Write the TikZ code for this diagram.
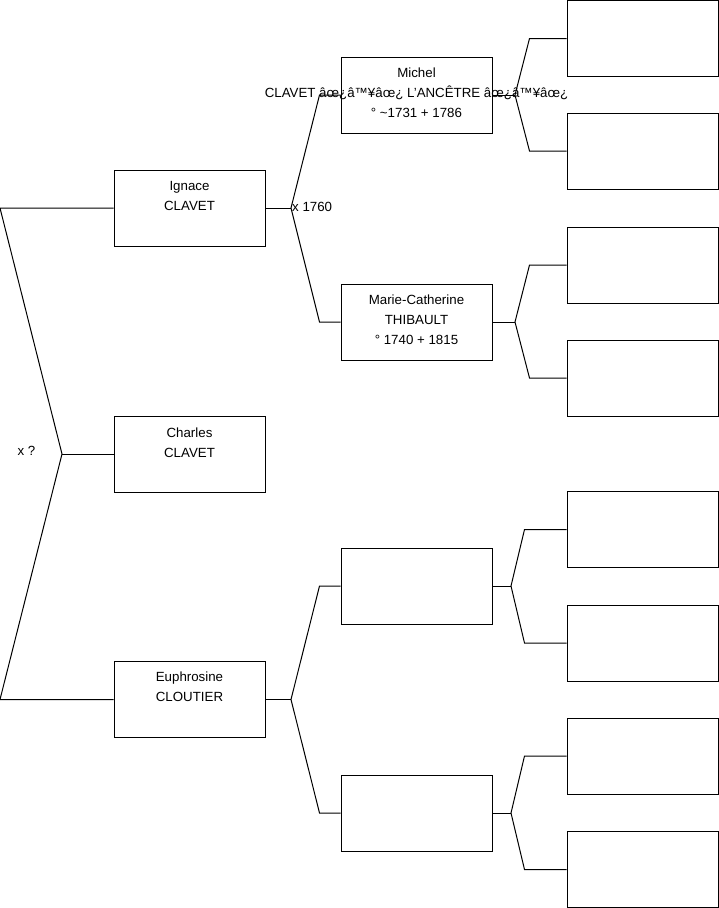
\documentclass[tikz,border=0pt]{standalone}
\usepackage{fontspec}
\setmainfont{Liberation Sans}
\begin{document}
\begin{tikzpicture}[x=1pt,y=-1pt,
  pbox/.style={draw=black,line width=1pt,minimum width=151pt,minimum height=76pt,inner sep=0pt},
  txt/.style={inner sep=0pt,align=center,font=\fontsize{13.3}{20}\selectfont},
  conn/.style={draw=black,line width=1pt}]
\useasboundingbox (0,0) rectangle (719,908);
% generation 1
\node[pbox] (ign) at (189.5,208) {};
\node[pbox] (cha) at (189.5,454) {};
\node[pbox] (eup) at (189.5,699.5) {};
% generation 2
\node[pbox] (mic) at (416.5,95) {};
\node[pbox] (mar) at (416.5,322) {};
\node[pbox] (ea) at (416.5,586) {};
\node[pbox] (eb) at (416.5,813) {};
% generation 3
\node[pbox] (g1) at (642.5,38.5) {};
\node[pbox] (g2) at (642.5,151) {};
\node[pbox] (g3) at (642.5,265) {};
\node[pbox] (g4) at (642.5,378) {};
\node[pbox] (g5) at (642.5,529.5) {};
\node[pbox] (g6) at (642.5,643) {};
\node[pbox] (g7) at (642.5,756) {};
\node[pbox] (g8) at (642.5,869.5) {};
% texts
\node[txt] (tign) at (189.5,196) {Ignace\\CLAVET};
\node[txt] (tcha) at (189.5,443) {Charles\\CLAVET};
\node[txt] (teup) at (189.5,687) {Euphrosine\\CLOUTIER};
\node[txt] (tmic) at (416.5,93) {Michel\\CLAVET âœ¿â™¥âœ¿ L'ANCÊTRE âœ¿â™¥âœ¿\\° \textasciitilde1731 + 1786};
\node[txt] (tmar) at (416.5,319.5) {Marie-Catherine\\THIBAULT\\° 1740 + 1815};
\node[txt,anchor=west] (tx1) at (292,207) {x 1760};
\node[txt] (tx2) at (26.5,451) {x ?};
% junction coordinates
\coordinate (l1) at (0,208);
\coordinate (l2) at (0,699.5);
\coordinate (jl) at (62,454);
\coordinate (ji) at (291,208);
\coordinate (je) at (291,699.5);
\coordinate (jm) at (515,95);
\coordinate (jr) at (515,322);
\coordinate (ja) at (511,586);
\coordinate (jb) at (511,813);
% connectors
\draw[conn] (ign.west) -- (l1) -- (jl) -- (l2) -- (eup.west);
\draw[conn] (jl) -- (cha.west);
\draw[conn] (ign.east) -- (ji);
\draw[conn] (mic.west) -- ++(-21,0) -- (ji) -- ([xshift=-21pt]mar.west) -- (mar.west);
\draw[conn] (eup.east) -- (je);
\draw[conn] (ea.west) -- ++(-21,0) -- (je) -- ([xshift=-21pt]eb.west) -- (eb.west);
\draw[conn] (mic.east) -- (jm);
\draw[conn] (g1.west) -- ++(-37,0) -- (jm) -- ([xshift=-37pt]g2.west) -- (g2.west);
\draw[conn] (mar.east) -- (jr);
\draw[conn] (g3.west) -- ++(-37,0) -- (jr) -- ([xshift=-37pt]g4.west) -- (g4.west);
\draw[conn] (ea.east) -- (ja);
\draw[conn] (g5.west) -- ++(-42,0) -- (ja) -- ([xshift=-42pt]g6.west) -- (g6.west);
\draw[conn] (eb.east) -- (jb);
\draw[conn] (g7.west) -- ++(-42,0) -- (jb) -- ([xshift=-42pt]g8.west) -- (g8.west);
\end{tikzpicture}
\end{document}
